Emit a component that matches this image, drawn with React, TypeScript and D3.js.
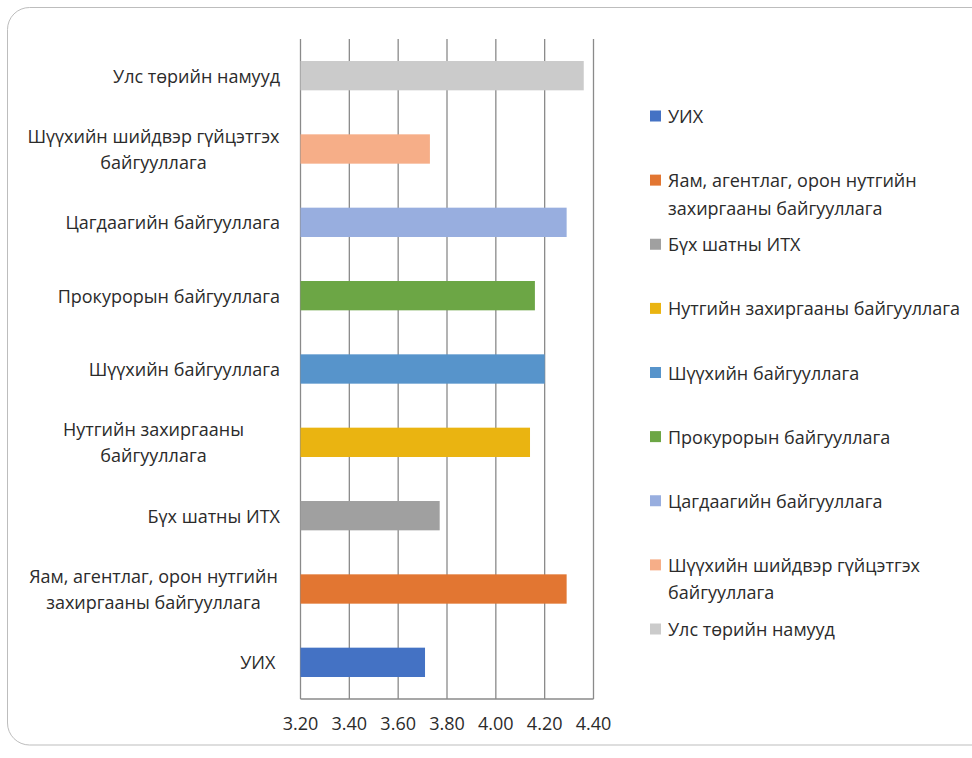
import React from "react";
import * as d3 from "d3";

const categories = [
  "УИХ",
  "Яам, агентлаг, орон нутгийн захиргааны байгууллага",
  "Бүх шатны ИТХ",
  "Нутгийн захиргааны байгууллага",
  "Шүүхийн байгууллага",
  "Прокурорын байгууллага",
  "Цагдаагийн байгууллага",
  "Шүүхийн шийдвэр гүйцэтгэх байгууллага",
  "Улс төрийн намууд",
];
const values = [3.71, 4.29, 3.77, 4.14, 4.2, 4.16, 4.29, 3.73, 4.36];
const axisLabelLines = [
  ["УИХ "],
  ["Яам, агентлаг, орон нутгийн", "захиргааны байгууллага"],
  ["Бүх шатны ИТХ"],
  ["Нутгийн захиргааны", "байгууллага"],
  ["Шүүхийн байгууллага"],
  ["Прокурорын байгууллага"],
  ["Цагдаагийн байгууллага"],
  ["Шүүхийн шийдвэр гүйцэтгэх", "байгууллага"],
  ["Улс төрийн намууд"],
];
const legendLabelLines = [
  ["УИХ"],
  ["Яам, агентлаг, орон нутгийн", "захиргааны байгууллага"],
  ["Бүх шатны ИТХ"],
  ["Нутгийн захиргааны байгууллага"],
  ["Шүүхийн байгууллага"],
  ["Прокурорын байгууллага"],
  ["Цагдаагийн байгууллага"],
  ["Шүүхийн шийдвэр гүйцэтгэх", "байгууллага"],
  ["Улс төрийн намууд"],
];
const colors = [
  "#4472C4",
  "#E27632",
  "#A0A0A0",
  "#EAB411",
  "#5794CB",
  "#6CA645",
  "#98AEDF",
  "#F6AE88",
  "#CBCBCB",
];
const tickValues = [3.2, 3.4, 3.6, 3.8, 4.0, 4.2, 4.4];

const FONT = "'Open Sans', sans-serif";
const FS = 18;
const TEXT = "#2b2b2b";
const GRID = "#8a8a8a";

export default function App() {
  const W = 972;
  const H = 758;
  const x = d3.scaleLinear().domain([3.2, 4.4]).range([300.5, 593.5]);
  const y = d3
    .scaleBand<string>()
    .domain([...categories].reverse())
    .range([39, 699])
    .paddingInner(0.6)
    .paddingOuter(0.3);
  const lineH = 26;
  const legendY = d3.scaleLinear().domain([0, 8]).range([116, 629]);

  return (
    <svg
      width={W}
      height={H}
      style={{ position: "fixed", left: 0, top: 0, background: "#fff" }}
      fontFamily={FONT}
      fontSize={FS}
    >
      <rect x={0} y={0} width={W} height={H} fill="#fff" />
      <rect
        x={7.5}
        y={7.5}
        width={990}
        height={737.5}
        rx={22}
        ry={22}
        fill="#fff"
        stroke="#bdbdbd"
        strokeWidth={1}
      />
      {/* gridlines */}
      {tickValues.map((t) => (
        <line
          key={"g" + t}
          x1={x(t)}
          x2={x(t)}
          y1={39}
          y2={699}
          stroke={GRID}
          strokeWidth={1.3}
        />
      ))}
      <line x1={x(3.2)} x2={x(4.4)} y1={699} y2={699} stroke={GRID} strokeWidth={1.3} />
      {/* bars */}
      {categories.map((c, i) => (
        <rect
          key={"b" + c}
          x={x(3.2)}
          y={y(c)}
          width={x(values[i]) - x(3.2)}
          height={y.bandwidth()}
          fill={colors[i]}
        />
      ))}
      {/* category labels */}
      {categories.map((c, i) => {
        const lines = axisLabelLines[i];
        const cy = (y(c) as number) + y.bandwidth() / 2;
        const multi = lines.length > 1;
        return (
          <text
            key={"l" + c}
            fill={TEXT}
            textAnchor={multi ? "middle" : "end"}
            style={{ whiteSpace: "pre" }}
          >
            {lines.map((ln, j) => (
              <tspan
                key={j}
                x={multi ? 153.5 : 280}
                y={cy + (j - (lines.length - 1) / 2) * lineH}
                dominantBaseline="central"
              >
                {ln}
              </tspan>
            ))}
          </text>
        );
      })}
      {/* x tick labels */}
      {tickValues.map((t) => (
        <text
          key={"t" + t}
          x={x(t)}
          y={723}
          textAnchor="middle"
          dominantBaseline="central"
          fill={TEXT}
        >
          {d3.format(".2f")(t)}
        </text>
      ))}
      {/* legend */}
      {categories.map((c, i) => {
        const ly = legendY(i);
        return (
          <g key={"lg" + c}>
            <rect x={650} y={ly - 5.5} width={11} height={11} fill={colors[i]} />
            <text fill={TEXT}>
              {legendLabelLines[i].map((ln, j) => (
                <tspan key={j} x={668} y={ly + j * 27.5} dominantBaseline="central">
                  {ln}
                </tspan>
              ))}
            </text>
          </g>
        );
      })}
    </svg>
  );
}
